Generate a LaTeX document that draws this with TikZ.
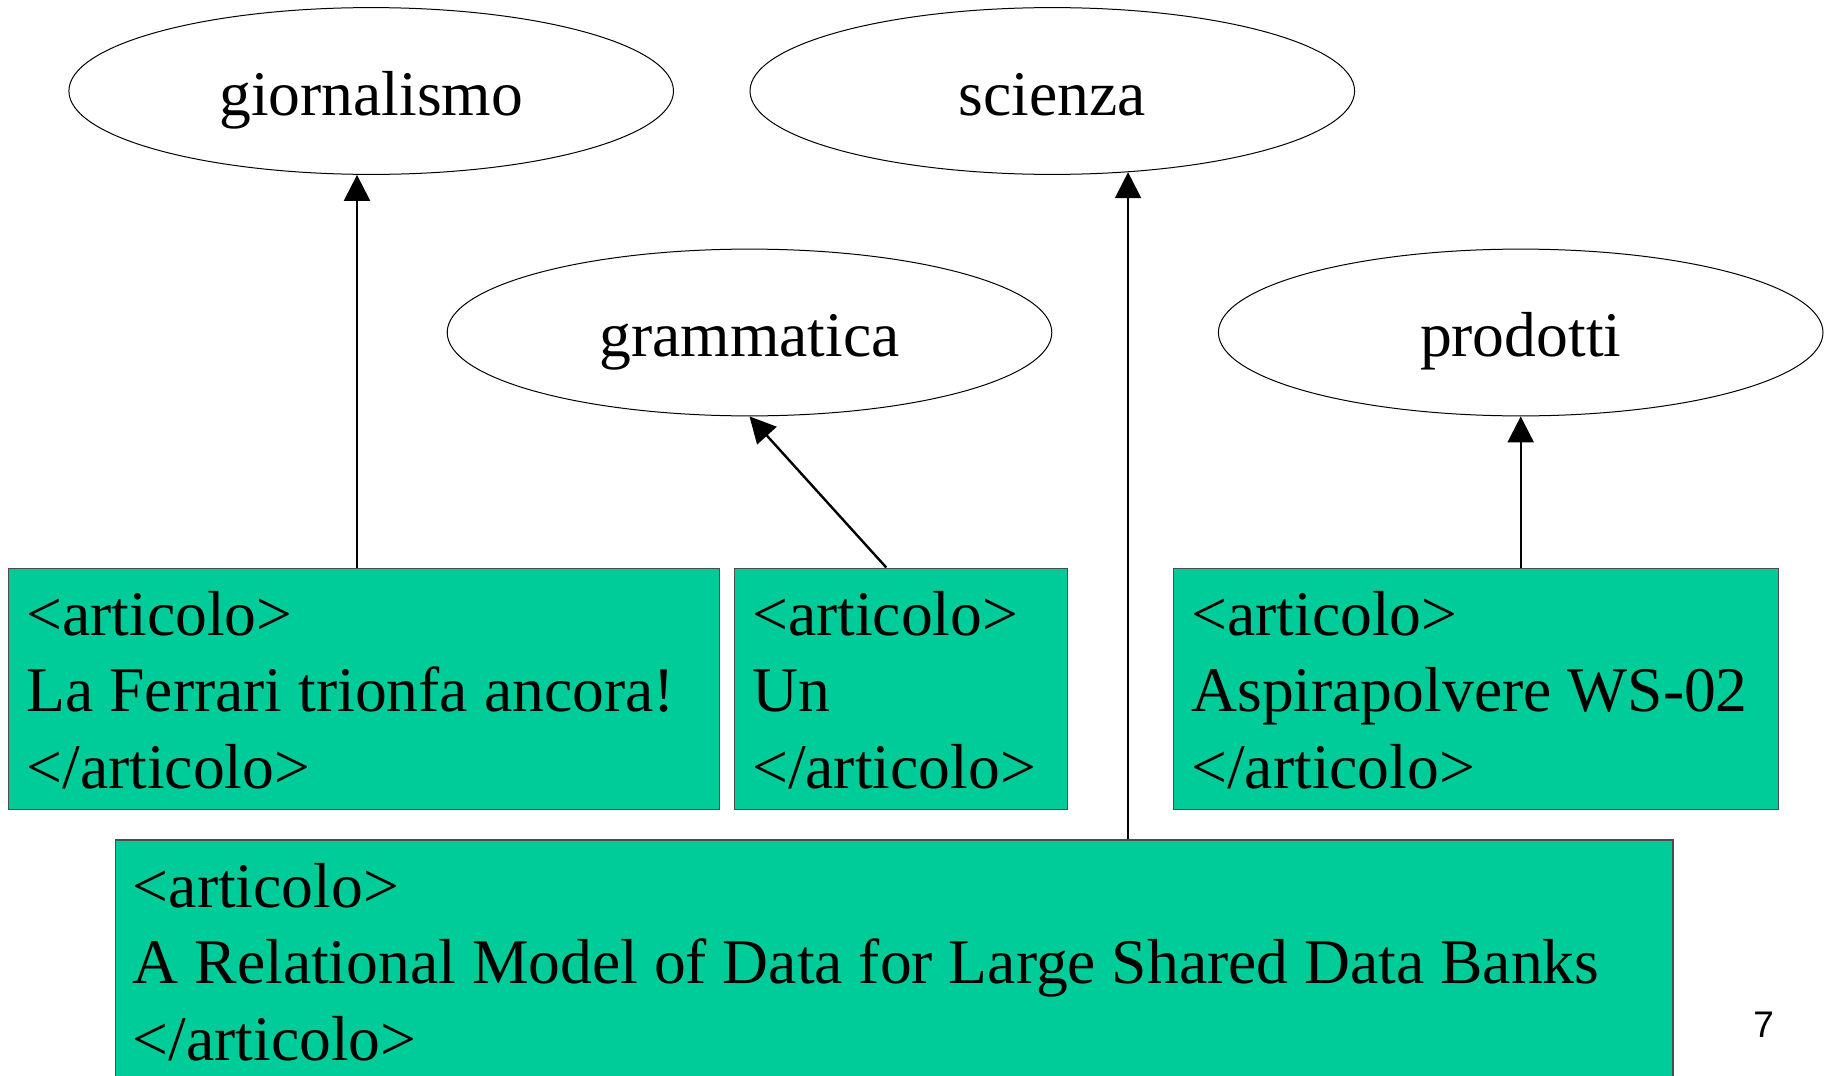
\documentclass[tikz,border=0pt]{standalone}
\usepackage{fontspec}
\setmainfont{Liberation Serif}
\newfontfamily\numfont{Liberation Sans}
\usetikzlibrary{arrows.meta,shapes.geometric}
\definecolor{boxgreen}{RGB}{0,204,153}
\begin{document}
\begin{tikzpicture}[x=0.5pt,y=-0.5pt,
  oval/.style={ellipse, draw=black, line width=0.5pt, minimum width=302.3pt, minimum height=83.4pt,
    inner sep=0pt, text height=28.6pt, text depth=4.6pt, font=\fontsize{31.8pt}{38.25pt}\selectfont},
  artbox/.style={rectangle, draw=black!70, line width=0.6pt, fill=boxgreen, anchor=north west, inner sep=0pt},
  tline/.style={anchor=base west, inner sep=0pt, font=\fontsize{31.8pt}{38.25pt}\selectfont},
  arr/.style={line width=1.2pt, -{Triangle[length=13pt,width=13pt]}}]
\path[use as bounding box, fill=white] (0,0) rectangle (1832,1076);
\clip (0,0) rectangle (1832,1076);

\node[oval] (gio) at (371.2,91) {giornalismo};
\node[oval] (sci) at (1052.3,91) {scienza};
\node[oval] (gra) at (749.5,332.5) {grammatica};
\node[oval] (pro) at (1520.7,332.5) {prodotti};

\node[artbox, minimum width=355.2pt, minimum height=120.75pt] (b1) at (8.2,567.5) {};
\node[artbox, minimum width=166.45pt, minimum height=120.75pt] (b2) at (733.8,567.5) {};
\node[artbox, minimum width=302.3pt, minimum height=120.75pt] (b3) at (1173,567.5) {};
\node[artbox, minimum width=778.95pt, minimum height=130pt] (b4) at (114.5,839.3) {};

\node[tline] (t1a) at (26.2,635) {<articolo>};
\node[tline] (t1b) at (26.2,711.5) {La Ferrari trionfa ancora!};
\node[tline] (t1c) at (26.2,788) {</articolo>};

\node[tline] (t2a) at (751.8,635) {<articolo>};
\node[tline] (t2b) at (751.8,711.5) {Un};
\node[tline] (t2c) at (751.8,788) {</articolo>};

\node[tline] (t3a) at (1191,635) {<articolo>};
\node[tline] (t3b) at (1191,711.5) {Aspirapolvere WS-02};
\node[tline] (t3c) at (1191,788) {</articolo>};

\node[tline] (t4a) at (132.5,907) {<articolo>};
\node[tline] (t4b) at (132.5,983.5) {A Relational Model of Data for Large Shared Data Banks};
\node[tline] (t4c) at (132.5,1060) {</articolo>};

\coordinate (p1) at ([xshift=-3.5pt]b1.north);
\draw[arr] (p1) -- (p1 |- gio.south);
\draw[arr] ([xshift=-7.3pt]b2.north) -- (gra.south);
\coordinate (p4) at ([xshift=117pt]b4.north);
\draw[arr] (p4) -- (p4 |- sci.-47);
\draw[arr] (pro.south |- b3.north) -- (pro.south);

\node[anchor=base west, inner sep=0pt, font=\numfont\fontsize{18.5pt}{21pt}\selectfont] (pg) at (1753,1037) {7};
\end{tikzpicture}
\end{document}
